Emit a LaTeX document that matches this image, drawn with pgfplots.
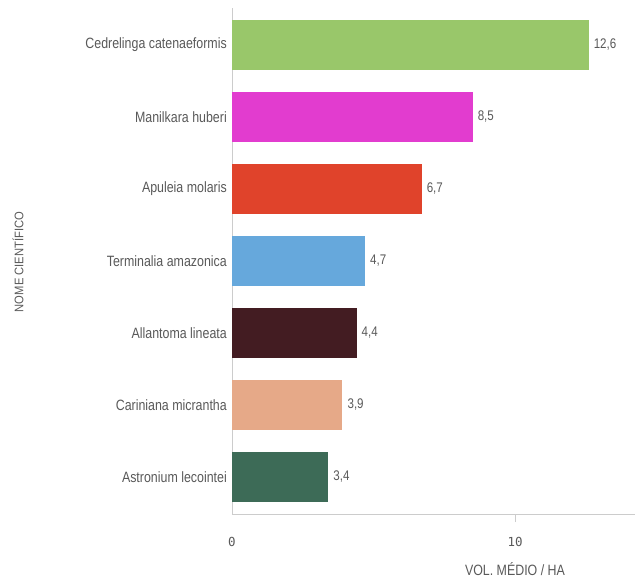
\documentclass[border=0pt]{standalone}
\usepackage{fontspec}
\setmainfont{Liberation Sans}[FakeStretch=0.83]
\newfontfamily\monofont{DejaVu Sans Mono}
\newfontfamily\ylabfont{Liberation Sans}[FakeStretch=0.9]
\usepackage{pgfplots}
\pgfplotsset{compat=1.18}
\definecolor{cA}{HTML}{99C76A}
\definecolor{cB}{HTML}{E23CCF}
\definecolor{cC}{HTML}{E0432B}
\definecolor{cD}{HTML}{66A8DC}
\definecolor{cE}{HTML}{431C22}
\definecolor{cF}{HTML}{E6A988}
\definecolor{cG}{HTML}{3D6B57}
\definecolor{axgray}{HTML}{CCCCCC}
\definecolor{txtgray}{HTML}{595959}
\begin{document}
\begin{tikzpicture}
\begin{axis}[
  at={(0,0)}, anchor=south west,
  scale only axis,
  width=403bp, height=506bp,
  xbar, bar shift=0pt, bar width=50bp,
  xmin=0, xmax=14.24,
  ymin=-0.514, ymax=6.514,
  axis x line*=bottom, axis y line*=left,
  axis line style={-, draw=axgray, line width=0.9bp},
  tick align=inside,
  xtick={10}, xticklabels={10},
  extra x ticks={0}, extra x tick labels={0},
  extra x tick style={major tick length=0pt},
  major tick length=8bp,
  xtick style={draw=axgray, line width=0.9bp, yshift=-8bp},
  xticklabel style={anchor=center, yshift=-28bp, inner sep=0pt, font=\monofont\fontsize{12.5}{12.5}\selectfont, text=txtgray},
  ytick={0,1,2,3,4,5,6},
  yticklabels={Astronium lecointei, Cariniana micrantha, Allantoma lineata, Terminalia amazonica, Apuleia molaris, Manilkara huberi, Cedrelinga catenaeformis},
  ytick style={draw=none},
  yticklabel style={anchor=east, inner sep=0pt, xshift=-5bp, font=\fontsize{15}{15}\selectfont, text=txtgray},
  /pgf/number format/assume math mode=true,
  nodes near coords={\pgfmathprintnumber[fixed,fixed zerofill,precision=1,use comma,assume math mode=true]{\pgfplotspointmeta}},
  nodes near coords style={anchor=west, inner sep=0pt, xshift=5bp, font=\fontsize{14}{14}\selectfont, text=txtgray},
  clip=false,
]
\addplot[fill=cA, draw=none] coordinates {(12.6,6)};
\addplot[fill=cB, draw=none] coordinates {(8.5,5)};
\addplot[fill=cC, draw=none] coordinates {(6.7,4)};
\addplot[fill=cD, draw=none] coordinates {(4.7,3)};
\addplot[fill=cE, draw=none] coordinates {(4.4,2)};
\addplot[fill=cF, draw=none] coordinates {(3.9,1)};
\addplot[fill=cG, draw=none] coordinates {(3.4,0)};
\end{axis}
\node[font=\fontsize{15}{15}\selectfont, text=txtgray] at (283bp,-55bp) {VOL. MÉDIO / HA};
\node[rotate=90, font=\ylabfont\fontsize{12.5}{12.5}\selectfont, text=txtgray] at (-214bp,252bp) {NOME CIENTÍFICO};
\pgfresetboundingbox
\path (-232bp,-64bp) rectangle (403bp,514bp);
\end{tikzpicture}
\end{document}
